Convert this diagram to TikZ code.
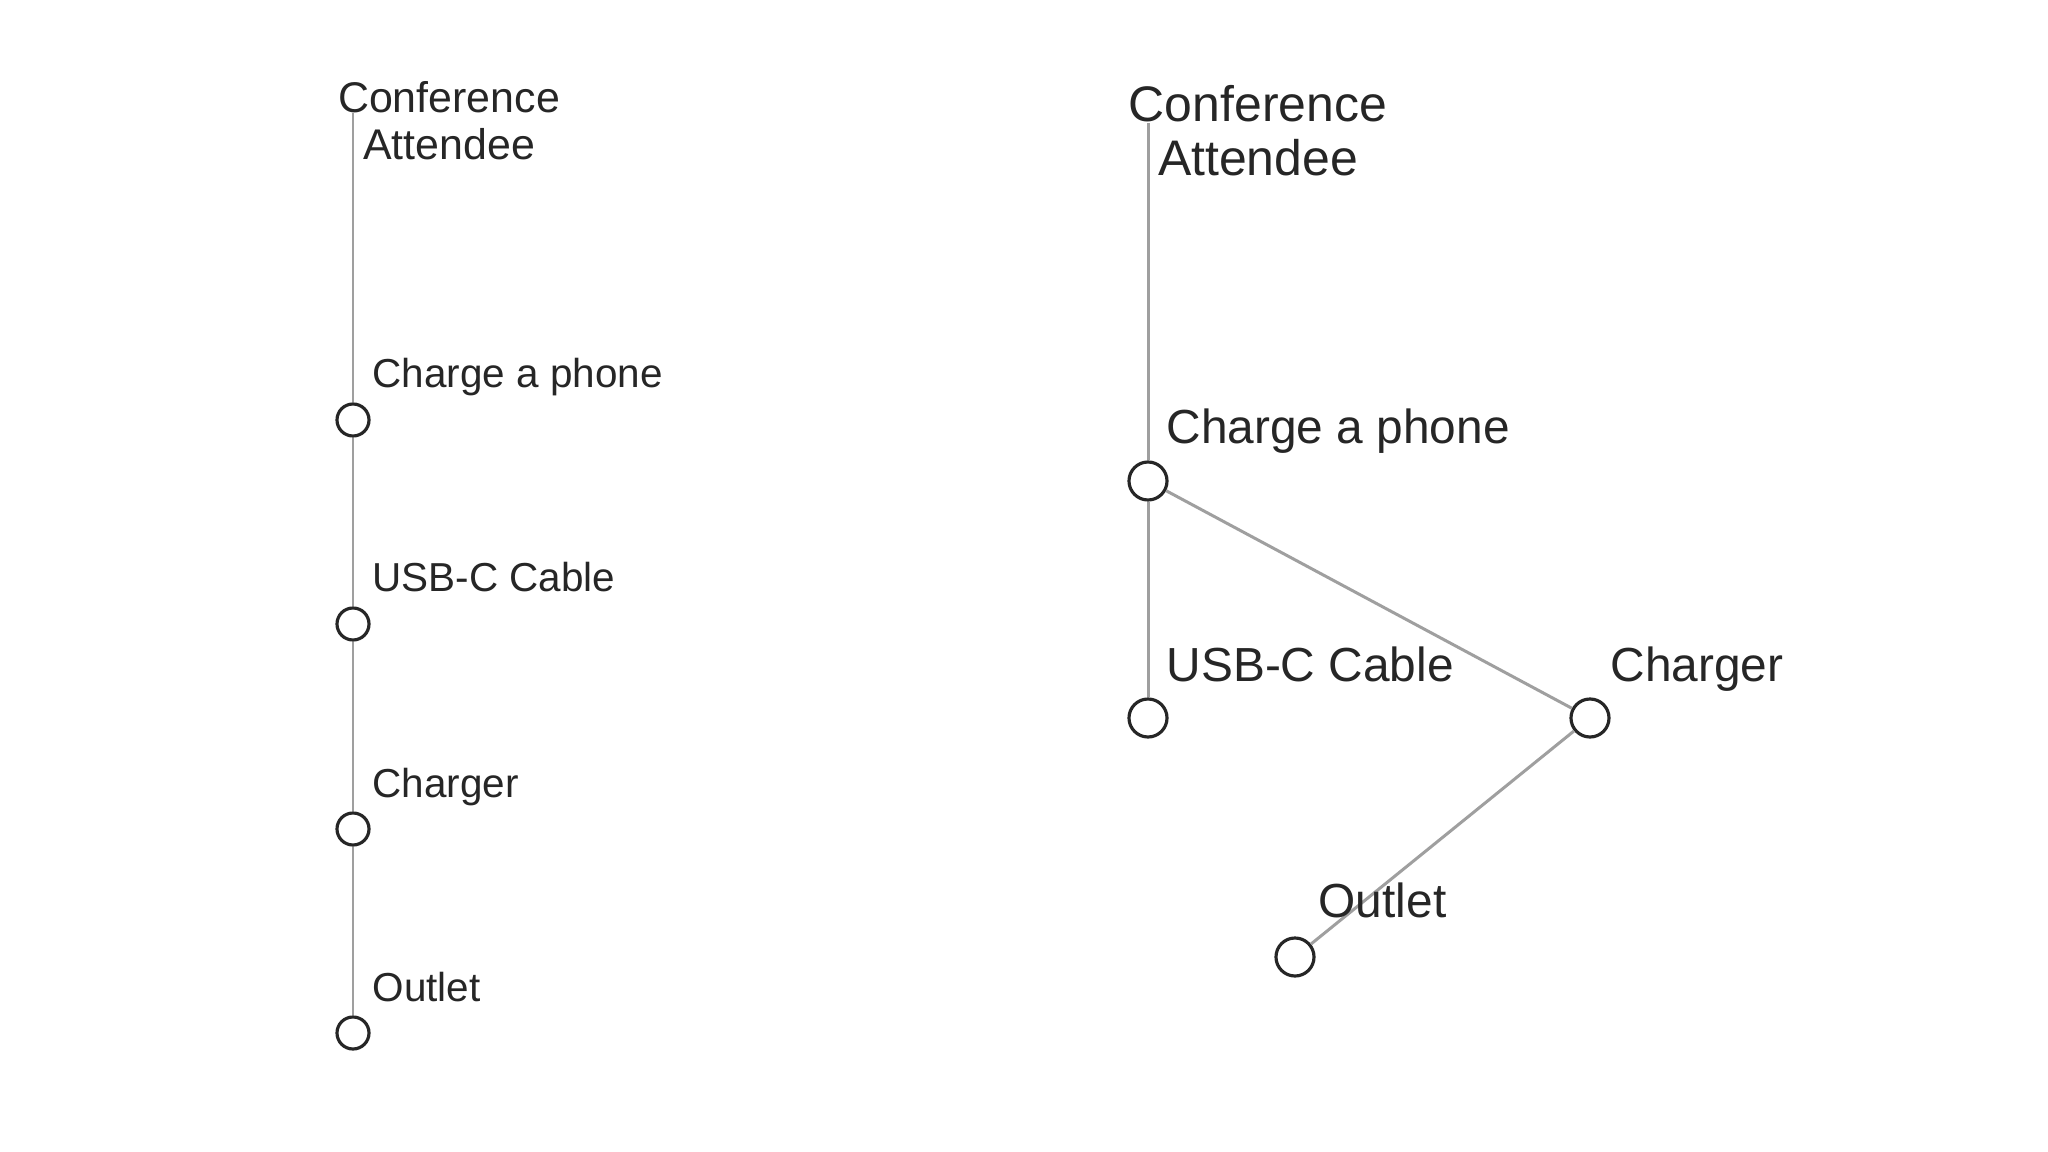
\documentclass[tikz,border=0pt]{standalone}
\usepackage{fontspec}
\setmainfont{Liberation Sans}
\usepackage{xcolor}
\usetikzlibrary{positioning}

\begin{document}
\begin{tikzpicture}[x=0.01cm,y=-0.01cm,
  edge/.style={draw=gray!75,line width=0.85pt},
  task/.style={circle,draw=black!85,fill=white,line width=0.9pt,inner sep=0pt,minimum size=#1},
  lbl/.style={anchor=base west,inner sep=0pt,text=black!85,font=\fontsize{#1}{#1}\selectfont},
  actor/.style={anchor=base,align=center,inner sep=0pt,text=black!85}]
  \useasboundingbox[fill=white] (0,0) rectangle (2048,1152);
  % Left: plain chain
  \node[actor,font=\fontsize{12.2}{13.4}\selectfont] (lactor) at (449,160) {Conference\\Attendee};
  \coordinate (lroot) at (353,113);
  \foreach \name/\txt/\y in {lcharge/Charge a phone/420,lcable/USB-C Cable/624,
                             lcharger/Charger/829,loutlet/Outlet/1033} {
    \node[task=0.32cm] (\name) at (353,\y) {};
    \node[lbl=11.5] (\name-t) at (372,\y-32) {\txt};
  }
  \draw[edge] (lroot) -- (lcharge) -- (lcable) -- (lcharger) -- (loutlet);
  % Right: branching tree
  \node[actor,font=\fontsize{14.2}{15.4}\selectfont] (ractor) at (1258,176) {Conference\\Attendee};
  \coordinate (rroot) at (1148,123);
  \node[task=0.38cm] (rcharge) at (1148,481) {};
  \node[task=0.38cm] (rcable) at (1148,718) {};
  \node[task=0.38cm] (rcharger) at (1590,718) {};
  \node[task=0.38cm] (routlet) at (1295,957) {};
  \draw[edge] (rroot) -- (rcharge) -- (rcable);
  \draw[edge] (rcharge) -- (rcharger) -- (routlet);
  \node[lbl=13.6] (rcharge-t) at (1166,444) {Charge a phone};
  \node[lbl=13.6] (rcable-t) at (1166,682) {USB-C Cable};
  \node[lbl=13.6] (rcharger-t) at (1610,682) {Charger};
  \node[lbl=13.6] (routlet-t) at (1318,917) {Outlet};
\end{tikzpicture}
\end{document}
